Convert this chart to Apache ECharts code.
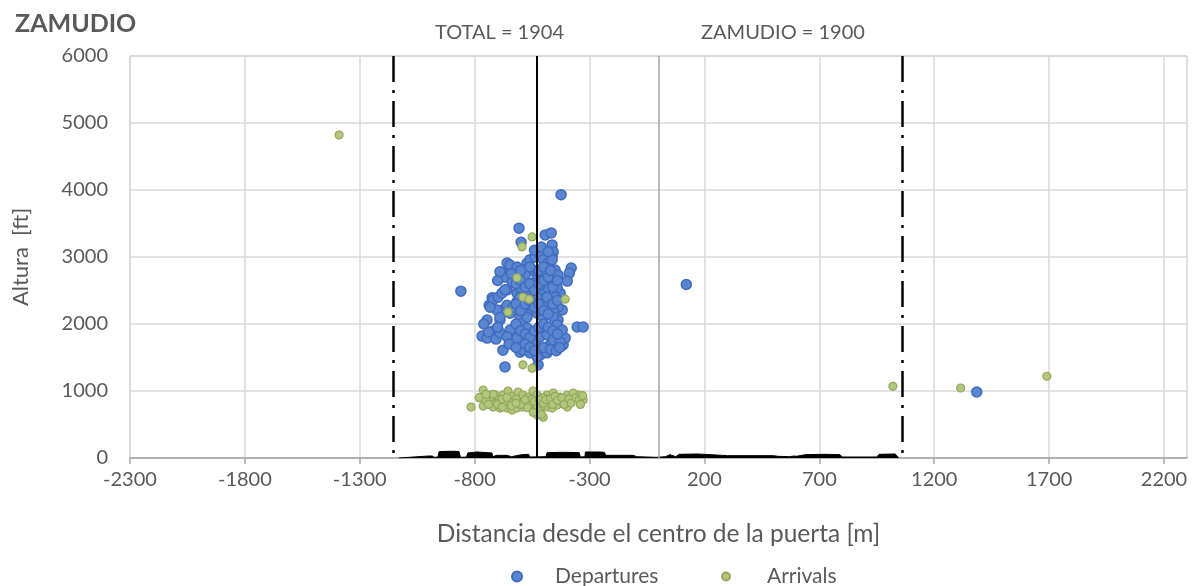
<!DOCTYPE html>
<html>
<head>
<meta charset="utf-8">
<script src="https://cdn.jsdelivr.net/npm/echarts@6/dist/echarts.min.js"></script>
<style>
  html, body { margin: 0; padding: 0; background: #fff; }
  #chart { width: 1197px; height: 586px; }
</style>
</head>
<body>
<div id="chart"></div>
<script>
// ticks of the distance axis (Excel style, starting at -2300)
const xTicks = [-2300, -1800, -1300, -800, -300, 200, 700, 1200, 1700, 2200]

// reference lines [m]
const gateLimits = [-1155, 1060]
const centreLine = -530

// Departures
const depX = [-860, -424, 121, 1385,
  -607, -598, -493, -467, -463, -458, -463, -380, -388, -397,
  -659, -677, -668, -724, -737, -746, -768, -746, -720, -707,
  -677, -668, -603, -524, -354, -328, -415, -406, -437, -428,
  -450, -458, -515, -485, -472, -559, -537, -633, -646,
  -690, -681, -659, -616, -603, -590, -572, -559, -537, -515, -502,
  -485, -472, -480, -493, -506, -528, -546, -559, -572, -559, -528, -502,
  -603, -590, -572, -546, -515, -485, -458, -428,
  -646, -633, -659, -637, -690, -659, -616, -572,
  -590, -559, -528, -480, -463, -546, -524,
  -437, -441, -450, -419, -437, -458, -458, -441, -419,
  -515, -502, -485, -515, -528, -546, -616, -603, -590, -572,
  -720, -703, -690, -733, -698, -681, -668,
  -646, -616, -590, -603, -580, -502, -485, -515, -568, -546,
  -620, -600, -580, -560, -540, -520, -500, -480, -460, -440,
  -620, -600, -580, -560, -540, -520, -500, -480, -460, -440,
  -620, -600, -580, -560, -540, -520, -500, -480, -460, -440,
  -600, -560, -520, -500, -470, -540, -510, -480,
  -650, -620, -580, -560, -540, -500, -470, -445, -430, -700, -740, -760, -700, -690, -640]
const depY = [2490, 3930, 2590, 985,
  3430, 3220, 3330, 3360, 3180, 3075, 3000, 2835, 2760, 2640,
  2910, 2760, 2700, 2390, 2280, 2060, 1820, 1790, 1895, 1775,
  1610, 1360, 1580, 1390, 1955, 1955, 1690, 1790, 2060, 2460,
  2805, 2630, 1540, 1570, 1690, 1660, 1730, 1810, 1910,
  2060, 2210, 2280, 2460, 2540, 2660, 2910, 2960, 3000, 3030, 2960,
  2850, 2730, 2610, 2480, 2360, 2700, 2610, 2460, 2310, 2210, 2160, 2100,
  2100, 2010, 1940, 1870, 1810, 1840, 1760, 1730,
  2160, 2250, 2510, 2630, 1870, 1810, 1790, 1730,
  1610, 1570, 1510, 2910, 2960, 2805, 2775,
  2730, 2550, 2400, 2210, 2250, 2210, 2100, 1985, 1910,
  2210, 2310, 2400, 2510, 2400, 2310, 2330, 2390, 2210, 2100,
  2360, 2210, 2100, 2250, 2400, 2460, 2510,
  2880, 2850, 2805, 2700, 2730, 2630, 2550, 2580, 2510, 2540,
  2000, 1900, 1850, 1800, 1900, 1950, 2000, 1950, 1900, 1850,
  2300, 2200, 2300, 2350, 2250, 2300, 2200, 2150, 2300, 2350,
  2600, 2650, 2550, 2600, 2500, 2600, 2650, 2700, 2550, 2650,
  2800, 2850, 2800, 2850, 2800, 3100, 3150, 3080,
  1700, 1650, 1700, 1650, 1600, 1650, 1620, 1600, 1650, 1950, 1880, 2000, 2650, 2780, 2750]

// Arrivals
const arrX = [-1390, 1020, 1315, 1690,
  -550, -594, -616, -590, -563, -406, -655, -590, -550,
  -816, -763, -763, -733, -711, -698, -677, -655, -637,
  -720, -690, -659, -637, -616, -594,
  -611, -590, -568, -546, -528,
  -559, -537, -515, -502, -528,
  -485, -463, -441, -419, -397, -371, -350, -328,
  -485, -458, -428, -397, -371,
  -703, -646, -590, -515, -458, -502, -528,
  -780, -750, -740, -720, -700, -680, -660, -640, -620, -600, -580, -570,
  -550, -540, -520, -510, -500, -490, -470, -460, -450, -440, -420, -410,
  -390, -380, -360, -345, -330, -520, -510, -545, -620, -680, -750, -340]
const arrY = [4820, 1070, 1045, 1220,
  3300, 3150, 2690, 2400, 2370, 2370, 2180, 1390, 1340,
  760, 1015, 775, 900, 940, 865, 940, 1000, 925,
  760, 745, 745, 715, 745, 760,
  985, 940, 910, 1000, 940,
  790, 715, 670, 610, 640,
  760, 745, 790, 835, 760, 900, 940, 865,
  940, 970, 910, 940, 970,
  820, 835, 835, 835, 865, 900, 790,
  900, 860, 800, 950, 800, 880, 900, 780, 880, 800, 870, 750,
  880, 850, 870, 760, 820, 870, 880, 800, 920, 860, 900, 800,
  880, 820, 900, 870, 930, 700, 650, 680, 820, 760, 950, 800]

// ground profile along the axis [m] / [ft]
const groundX = [-1130, -1125, -1000, -985, -975, -960, -955, -910, -905, -880, -868, -862,
  -835, -830, -790, -770, -725, -720, -705, -660, -655, -640, -635, -595, -565, -560,
  -490, -485, -410, -345, -340, -320, -318, -260, -235, -230, -110, -95, -10, 30, 50, 75,
  90, 170, 250, 300, 500, 520, 570, 590, 600, 640, 720, 790, 800, 950, 960, 1030, 1045]
const groundY = [0, 25, 30, 30, 10, 15, 95, 100, 110, 100, 95, 10,
  15, 75, 90, 85, 75, 20, 40, 40, 15, 20, 45, 50, 55, 15,
  20, 80, 85, 80, 15, 20, 90, 90, 85, 40, 40, 20, 10, 20, 50, 20,
  55, 60, 45, 35, 35, 25, 20, 30, 25, 50, 55, 50, 15, 15, 55, 60, 0]

const TXT = '#595959'
const FONT = 'Lato'

const zip = (a, b) => a.map((v, i) => [v, b[i]])

const chart = echarts.init(document.getElementById('chart'))

const dashDot = [26, 8, 3, 8]
const refLines = gateLimits.map(x => [
  { coord: [x, 6000], lineStyle: { color: '#000', width: 2.5, type: dashDot } },
  { coord: [x, 0] }
])
refLines.push([
  { coord: [centreLine, 6000], lineStyle: { color: '#000', width: 2, type: 'solid' } },
  { coord: [centreLine, 0] }
])
refLines.push([
  { coord: [0, 6000], lineStyle: { color: '#A6A6A6', width: 1.5, type: 'solid' } },
  { coord: [0, 0] }
])

const option = {
  animation: false,
  textStyle: { fontFamily: FONT, color: TXT },
  title: [
    { text: 'ZAMUDIO', left: 10, top: 6, textStyle: { fontFamily: FONT, fontSize: 25, fontWeight: 'bold', color: TXT } },
    { text: 'TOTAL = 1904', left: 430, top: 18, textStyle: { fontFamily: FONT, fontSize: 20, fontWeight: 'normal', color: TXT } },
    { text: 'ZAMUDIO = 1900', left: 696, top: 18, textStyle: { fontFamily: FONT, fontSize: 20, fontWeight: 'normal', color: TXT } }
  ],
  legend: [
    {
      data: ['Departures'],
      left: 506, top: 561,
      itemWidth: 10, itemHeight: 10,
      textStyle: { fontFamily: FONT, fontSize: 21, color: TXT, padding: [0, 0, 0, 28] }
    },
    {
      data: ['Arrivals'],
      left: 716, top: 561,
      itemWidth: 8, itemHeight: 8,
      textStyle: { fontFamily: FONT, fontSize: 21, color: TXT, padding: [0, 0, 0, 32] }
    }
  ],
  grid: {
    left: 130, right: 10, top: 56, bottom: 128,
    show: true, borderColor: '#BFBFBF', borderWidth: 1
  },
  xAxis: {
    type: 'value',
    min: -2300, max: 2300,
    name: 'Distancia desde el centro de la puerta [m]',
    nameLocation: 'middle', nameGap: 64,
    nameTextStyle: { fontFamily: FONT, fontSize: 24.5, color: TXT },
    axisLine: { show: true, onZero: false, lineStyle: { color: '#A6A6A6', width: 1.5 } },
    axisTick: { show: true, length: 6, customValues: xTicks, lineStyle: { color: '#A6A6A6', width: 1.5 } },
    axisLabel: { customValues: xTicks, margin: 12, fontFamily: FONT, fontSize: 20, color: TXT, formatter: v => String(v) },
    splitLine: { show: true, lineStyle: { color: '#D9D9D9', width: 1.5 } }
  },
  yAxis: {
    type: 'value',
    min: 0, max: 6000, interval: 1000,
    name: 'Altura  [ft]',
    nameLocation: 'middle', nameGap: 98,
    nameTextStyle: { fontFamily: FONT, fontSize: 22, color: TXT },
    axisLine: { show: false },
    axisTick: { show: false },
    axisLabel: { margin: 22, fontFamily: FONT, fontSize: 20, color: TXT, formatter: v => String(v) },
    splitLine: { show: true, lineStyle: { color: '#D9D9D9', width: 1.5 } }
  },
  series: [
    {
      name: 'Ground',
      type: 'line',
      data: zip(groundX, groundY),
      symbol: 'none',
      lineStyle: { color: '#000', width: 1 },
      areaStyle: { color: '#000', opacity: 1 },
      z: 2,
      markLine: {
        silent: true,
        symbol: 'none',
        label: { show: false },
        data: refLines
      }
    },
    {
      name: 'Departures',
      type: 'scatter',
      data: zip(depX, depY),
      symbol: 'circle',
      symbolSize: 10,
      itemStyle: { color: '#5A86D0', borderColor: '#3F6CBF', borderWidth: 1.5, opacity: 1 },
      z: 3
    },
    {
      name: 'Arrivals',
      type: 'scatter',
      data: zip(arrX, arrY),
      symbol: 'circle',
      symbolSize: 8,
      itemStyle: { color: '#B3C67E', borderColor: '#93A85A', borderWidth: 1.2, opacity: 1 },
      z: 4
    }
  ]
}

chart.setOption(option)
</script>
</body>
</html>
